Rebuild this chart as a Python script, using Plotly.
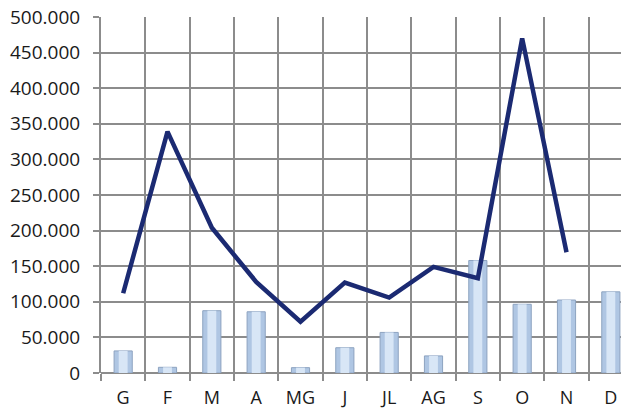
import plotly.graph_objects as go

months = ["G", "F", "M", "A", "MG", "J", "JL", "AG", "S", "O", "N", "D"]
bar_values = [31000, 8000, 87500, 86000, 7500, 35500, 57000, 24000, 158000, 96500, 102500, 114000]
line_values = [112000, 339000, 204000, 128000, 72000, 127000, 106000, 149000, 133000, 470000, 169500, None]
y_ticks = [0, 50000, 100000, 150000, 200000, 250000, 300000, 350000, 400000, 450000, 500000]

fig = go.Figure()
fig.add_trace(go.Bar(
    x=months, y=bar_values, width=0.41,
    marker=dict(color="#AFC6E3", line=dict(color="#8DA3C0", width=1)),
    showlegend=False, hoverinfo="skip",
))
fig.add_trace(go.Bar(
    x=months, y=bar_values, width=0.2,
    marker=dict(color="#D8E6F6", line=dict(width=0)),
    showlegend=False,
))
fig.add_trace(go.Scatter(
    x=months, y=line_values, mode="lines",
    line=dict(color="#1B2A72", width=4.5),
    connectgaps=False, showlegend=False,
))

font = dict(family="'Open Sans', sans-serif", size=19, color="#1a1a1a")
xfont = dict(family="'Open Sans', sans-serif", size=18, color="#1a1a1a")
fig.update_layout(
    width=629, height=410,
    margin=dict(l=93, r=4, t=9, b=45),
    paper_bgcolor="white", plot_bgcolor="white",
    separators=",.",
    font=font,
    barmode="overlay",
)
fig.update_xaxes(
    type="category", range=[-0.5, 11.5], automargin=False,
    tickson="boundaries", ticks="outside", ticklen=7, tickcolor="#8c8c8c", tickwidth=2,
    showgrid=True, gridcolor="#8c8c8c", gridwidth=2,
    showline=False, tickfont=xfont, ticklabelstandoff=12,
)
fig.update_yaxes(
    range=[0, 500000], tickvals=y_ticks, tickformat=",d", automargin=False,
    ticks="outside", ticklen=6, tickcolor="#8c8c8c", tickwidth=2,
    showgrid=True, gridcolor="#8c8c8c", gridwidth=2,
    zeroline=True, zerolinecolor="#8c8c8c", zerolinewidth=2,
    showline=True, linecolor="#8c8c8c", linewidth=2,
    tickfont=font, ticklabelstandoff=9, ticklabeloverflow="allow",
)
fig.write_html("out.html")
